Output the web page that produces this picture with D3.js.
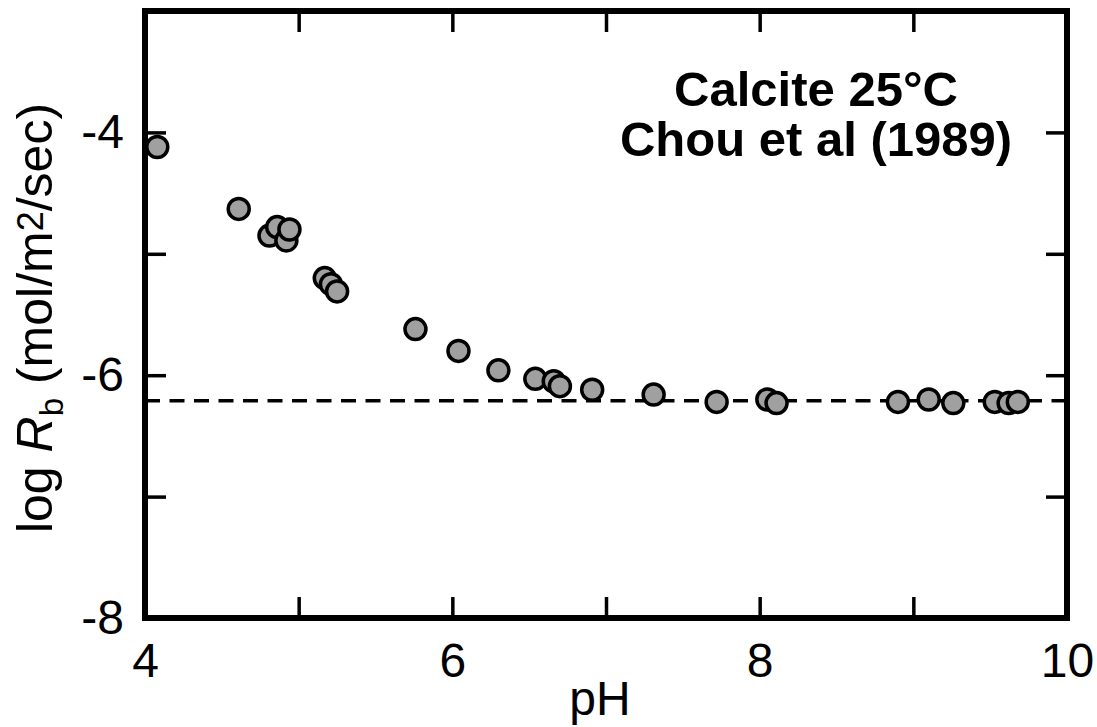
<!DOCTYPE html>
<html>
<head>
<meta charset="utf-8">
<script src="https://cdn.jsdelivr.net/npm/d3@7"></script>
<style>
  html, body { margin: 0; padding: 0; background: #fff; }
  svg { display: block; }
  text { font-family: "Liberation Sans", Arial, Helvetica, sans-serif; fill: #000; }
</style>
</head>
<body>
<svg id="chart" width="1097" height="727"></svg>
<script>
// ---- data ----
const pH = [4.08, 4.61, 4.81, 4.86, 4.92, 4.94, 5.17, 5.21, 5.25, 5.76, 6.04, 6.30,
            6.54, 6.66, 6.70, 6.91, 7.31, 7.72, 8.05, 8.11, 8.90, 9.10, 9.26, 9.53, 9.62, 9.68];
const logRb = [-4.12, -4.63, -4.85, -4.78, -4.89, -4.80, -5.20, -5.25, -5.31, -5.62, -5.80, -5.96,
               -6.03, -6.05, -6.09, -6.12, -6.16, -6.22, -6.20, -6.23, -6.22, -6.20, -6.23, -6.22, -6.23, -6.22];
const plateau = [-6.21];
const xTicks = [4, 5, 6, 7, 8, 9, 10];
const xTickLabels = ["4", "", "6", "", "8", "", "10"];
const yTicks = [-8, -7, -6, -5, -4, -3];
const yTickLabels = ["-8", "", "-6", "", "-4", ""];
const titleLines = ["Calcite 25°C", "Chou et al (1989)"];

// ---- layout ----
const svg = d3.select("#chart");
const pLeft = 145, pRight = 1067, pTop = 11, pBottom = 618;
const x = d3.scaleLinear().domain([4, 10]).range([pLeft, pRight]);
const y = d3.scaleLinear().domain([-8, -3]).range([pBottom, pTop]);
const tickLen = 21;

// axes (inward ticks)
const axB = svg.append("g").attr("transform", `translate(0,${pBottom})`)
  .call(d3.axisBottom(x).tickValues(xTicks).tickSize(-tickLen).tickPadding(25)
        .tickFormat((d, i) => xTickLabels[i]));
const axT = svg.append("g").attr("transform", `translate(0,${pTop})`)
  .call(d3.axisTop(x).tickValues(xTicks).tickSize(-tickLen).tickFormat(""));
const axL = svg.append("g").attr("transform", `translate(${pLeft},0)`)
  .call(d3.axisLeft(y).tickValues(yTicks).tickSize(-tickLen).tickPadding(21)
        .tickFormat((d, i) => yTickLabels[i]));
const axR = svg.append("g").attr("transform", `translate(${pRight},0)`)
  .call(d3.axisRight(y).tickValues(yTicks).tickSize(-tickLen).tickFormat(""));

[axB, axT, axL, axR].forEach(g => {
  g.select(".domain").remove();
  g.selectAll(".tick line").attr("stroke", "#000").attr("stroke-width", 3.5);
  g.selectAll(".tick text").attr("font-size", 48).attr("fill", "#000")
    .style("font-family", '"Liberation Sans", Arial, Helvetica, sans-serif');
});

// frame
svg.append("rect")
  .attr("x", pLeft).attr("y", pTop)
  .attr("width", pRight - pLeft).attr("height", pBottom - pTop)
  .attr("fill", "none").attr("stroke", "#000").attr("stroke-width", 6);

// dashed plateau line
svg.selectAll("line.plateau").data(plateau).enter().append("line")
  .attr("class", "plateau")
  .attr("x1", x(4)).attr("x2", x(10))
  .attr("y1", d => y(d)).attr("y2", d => y(d))
  .attr("stroke", "#000").attr("stroke-width", 3.5)
  .attr("stroke-dasharray", "15,9.5");

// points
const pts = pH.map((p, i) => ({ p, v: logRb[i] }));
svg.selectAll("circle.pt").data(pts).enter().append("circle")
  .attr("class", "pt")
  .attr("cx", d => x(d.p)).attr("cy", d => y(d.v))
  .attr("r", 10.5)
  .attr("fill", "#a0a0a0").attr("stroke", "#000").attr("stroke-width", 3.5);

// title
svg.append("g").selectAll("text").data(titleLines).enter().append("text")
  .attr("x", 816).attr("y", (d, i) => 106 + i * 50)
  .attr("text-anchor", "middle").attr("font-size", 49).attr("font-weight", "bold")
  .text(d => d);

// x label
svg.append("text").attr("x", 600).attr("y", 715)
  .attr("text-anchor", "middle").attr("font-size", 48).text("pH");

// y label
const yl = svg.append("text")
  .attr("transform", `translate(52,318) rotate(-90)`)
  .attr("text-anchor", "middle").attr("font-size", 50);
yl.append("tspan").text("log ");
yl.append("tspan").attr("font-style", "italic").text("R");
yl.append("tspan").attr("font-size", 33).attr("dy", 11).text("b");
yl.append("tspan").attr("dy", -11).text(" (mol/m");
yl.append("tspan").attr("font-size", 36).attr("dy", -9).text("2");
yl.append("tspan").attr("dy", 9).text("/sec)");
</script>
</body>
</html>
